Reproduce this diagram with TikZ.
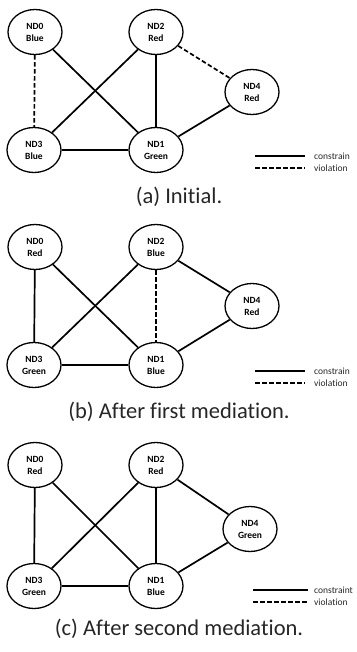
\documentclass[tikz,border=0pt]{standalone}
\usepackage{fontspec}
\setmainfont{Carlito}[Ligatures=CommonOff]
\usetikzlibrary{shapes.geometric}
\begin{document}
\begin{tikzpicture}[x=1pt,y=-1pt,
  nd/.style={draw, ellipse, minimum width=54pt, minimum height=45pt, inner sep=0pt, line width=1.3pt, align=center, font=\fontsize{9.5}{12}\selectfont\bfseries},
  con/.style={line width=1.7pt},
  vio/.style={line width=1.7pt, dash pattern=on 4.5pt off 2.5pt},
  captxt/.style={font=\fontsize{22.5}{26}\selectfont, text=black!85},
  legtxt/.style={anchor=west, font=\fontsize{9.5}{10}\selectfont, inner sep=0pt, text=black!85}
]
\useasboundingbox (0,0) rectangle (356,652);
% ---------- (a) ----------
\begin{scope}
\node[nd] (a0) at (35,32) {ND0\\Blue};
\node[nd] (a2) at (156,32) {ND2\\Red};
\node[nd] (a4) at (252,92) {ND4\\Red};
\node[nd] (a3) at (34,150) {ND3\\Blue};
\node[nd] (a1) at (156,150) {ND1\\Green};
\draw[vio] (a0) -- (a3);
\draw[con] (a0) -- (a1);
\draw[con] (a2) -- (a3);
\draw[con] (a2) -- (a1);
\draw[vio] (a2) -- (a4);
\draw[con] (a4) -- (a1);
\draw[con] (a3) -- (a1);
\coordinate (al1) at (255,156); \coordinate (al2) at (305,156);
\coordinate (al3) at (255,168); \coordinate (al4) at (305,168);
\draw[con] (al1) -- (al2);
\draw[vio] (al3) -- (al4);
\node[legtxt] (alt1) at (314,156) {constrain};
\node[legtxt] (alt2) at (314,168) {violation};
\node[captxt] (acap) at (179,197) {(a) Initial.};
\end{scope}
% ---------- (b) ----------
\begin{scope}[shift={(0,215)}]
\node[nd] (b0) at (35,32) {ND0\\Red};
\node[nd] (b2) at (156,32) {ND2\\Blue};
\node[nd] (b4) at (252,91) {ND4\\Red};
\node[nd] (b3) at (34,150) {ND3\\Green};
\node[nd] (b1) at (156,150) {ND1\\Blue};
\draw[con] (b0) -- (b3);
\draw[con] (b0) -- (b1);
\draw[con] (b2) -- (b3);
\draw[vio] (b2) -- (b1);
\draw[con] (b2) -- (b4);
\draw[con] (b4) -- (b1);
\draw[con] (b3) -- (b1);
\coordinate (bl1) at (255,156); \coordinate (bl2) at (305,156);
\coordinate (bl3) at (255,168); \coordinate (bl4) at (305,168);
\draw[con] (bl1) -- (bl2);
\draw[vio] (bl3) -- (bl4);
\node[legtxt] (blt1) at (314,156) {constrain};
\node[legtxt] (blt2) at (314,168) {violation};
\node[captxt] (bcap) at (179,197) {(b) After first mediation.};
\end{scope}
% ---------- (c) ----------
\begin{scope}[shift={(0,433)}]
\node[nd] (c0) at (35,32) {ND0\\Red};
\node[nd] (c2) at (156,32) {ND2\\Red};
\node[nd] (c4) at (250,96) {ND4\\Green};
\node[nd] (c3) at (34,153) {ND3\\Green};
\node[nd] (c1) at (156,153) {ND1\\Blue};
\draw[con] (c0) -- (c3);
\draw[con] (c0) -- (c1);
\draw[con] (c2) -- (c3);
\draw[con] (c2) -- (c1);
\draw[con] (c2) -- (c4);
\draw[con] (c4) -- (c1);
\draw[con] (c3) -- (c1);
\coordinate (cl1) at (253,157); \coordinate (cl2) at (308,157);
\coordinate (cl3) at (253,169); \coordinate (cl4) at (308,169);
\draw[con] (cl1) -- (cl2);
\draw[vio] (cl3) -- (cl4);
\node[legtxt] (clt1) at (314,157) {constraint};
\node[legtxt] (clt2) at (314,169) {violation};
\node[captxt] (ccap) at (179,196) {(c) After second mediation.};
\end{scope}
\end{tikzpicture}
\end{document}
